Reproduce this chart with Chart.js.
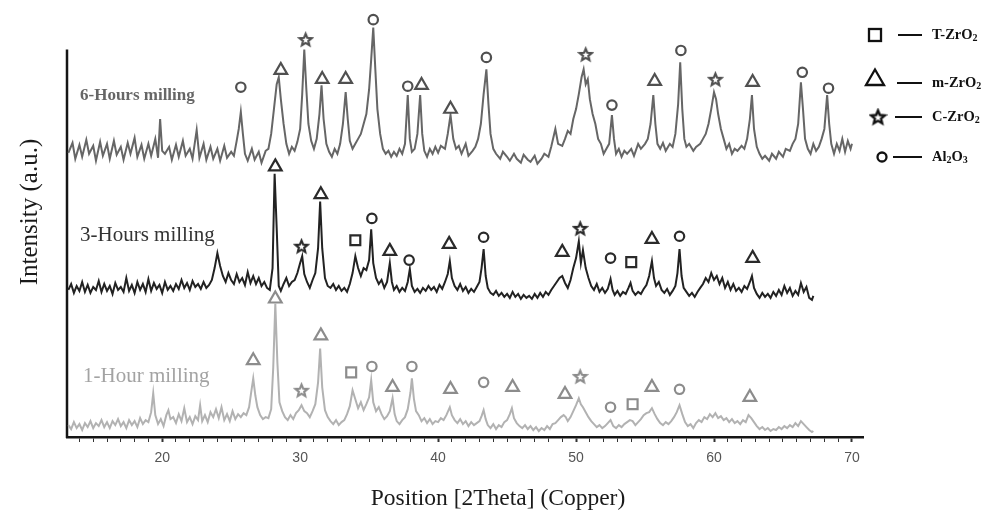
<!DOCTYPE html>
<html><head><meta charset="utf-8">
<script src="https://cdn.jsdelivr.net/npm/chart.js@4.4.1/dist/chart.umd.min.js"></script>
<style>html,body{margin:0;padding:0;background:#fff}canvas{display:block}</style>
</head><body>
<canvas id="c" width="996" height="514"></canvas>
<script>
// ---------- DATA (2θ in degrees, intensity in counts, arbitrary units) ----------
const tickLabels = [20, 30, 40, 50, 60, 70];
const seriesNames = ['6-Hours milling', '3-Hours milling', '1-Hour milling'];
const phaseNames = ['T-ZrO2', 'm-ZrO2', 'C-ZrO2', 'Al2O3'];
const yAxisTop = 3900;   // the drawn intensity axis ends here

const h6 = [[13.2,2860],[13.5,2960],[13.7,2800],[14.0,2940],[14.2,2820],[14.5,2990],[14.7,2850],[15.0,2930],[15.2,2780],[15.5,2970],[15.7,2830],[16.0,2950],[16.2,2800],[16.5,2980],[16.7,2840],[17.0,2920],[17.2,2790],[17.5,2960],[17.7,2850],[18.0,3010],[18.2,2820],[18.5,2940],[18.7,2800],[19.0,2950],[19.2,2830],[19.5,3000],[19.7,2810],[19.85,3200],[20.0,2880],[20.2,2850],[20.5,2920],[20.7,2790],[21.0,2940],[21.2,2820],[21.5,2980],[21.7,2830],[22.0,2900],[22.2,2800],[22.5,3090],[22.7,2810],[23.0,2950],[23.2,2790],[23.5,2920],[23.7,2800],[24.0,2900],[24.2,2780],[24.5,2930],[24.7,2810],[25.0,2870],[25.2,2830],[25.4,2980],[25.55,3100],[25.7,3270],[25.85,3050],[26.0,2850],[26.2,2780],[26.5,2900],[26.7,2790],[27.0,2870],[27.2,2760],[27.5,2880],[27.7,2900],[27.9,3050],[28.1,3300],[28.3,3550],[28.45,3620],[28.6,3400],[28.8,3150],[29.0,2950],[29.2,2850],[29.4,2920],[29.6,2880],[29.8,2970],[30.0,3100],[30.15,3450],[30.3,3900],[30.45,3500],[30.6,3150],[30.8,2980],[31.0,2900],[31.2,3000],[31.4,3250],[31.55,3540],[31.7,3200],[31.9,2950],[32.1,2870],[32.3,2820],[32.5,2900],[32.7,2850],[32.9,2950],[33.1,3150],[33.3,3470],[33.45,3200],[33.6,2980],[33.8,2900],[34.0,2950],[34.2,3000],[34.4,3050],[34.6,3150],[34.8,3250],[35.0,3500],[35.15,3800],[35.3,4120],[35.45,3700],[35.6,3300],[35.8,3050],[36.0,2900],[36.2,2850],[36.4,2880],[36.6,2820],[36.8,2870],[37.0,2830],[37.2,2900],[37.4,2850],[37.6,2950],[37.8,3440],[37.95,3000],[38.1,2870],[38.3,2900],[38.5,3050],[38.7,3440],[38.85,3050],[39.0,2880],[39.2,2820],[39.4,2900],[39.6,2850],[39.8,2920],[40.0,2860],[40.2,2930],[40.5,2900],[40.7,3050],[40.9,3240],[41.1,3000],[41.3,2900],[41.5,2930],[41.7,2850],[42.0,2950],[42.2,2830],[42.5,2880],[42.7,2920],[42.9,3000],[43.1,3150],[43.3,3450],[43.5,3700],[43.65,3350],[43.8,3050],[44.0,2900],[44.2,2850],[44.5,2800],[44.7,2870],[45.0,2820],[45.2,2780],[45.5,2850],[45.7,2800],[46.0,2760],[46.2,2840],[46.5,2790],[46.7,2770],[47.0,2830],[47.2,2750],[47.5,2800],[47.7,2850],[48.0,2820],[48.2,2920],[48.5,3100],[48.7,2950],[49.0,2930],[49.2,3000],[49.4,3080],[49.6,3050],[49.8,3200],[50.0,3300],[50.2,3450],[50.4,3620],[50.55,3700],[50.7,3550],[50.85,3600],[51.0,3400],[51.2,3250],[51.4,3150],[51.6,3000],[51.8,2950],[52.0,2850],[52.2,2900],[52.4,2950],[52.6,3240],[52.75,3000],[52.9,2850],[53.1,2900],[53.3,2820],[53.5,2880],[53.7,2850],[54.0,2900],[54.2,2830],[54.5,2950],[54.7,2900],[55.0,2950],[55.2,3000],[55.4,3150],[55.6,3440],[55.75,3150],[55.9,2950],[56.1,2900],[56.3,2960],[56.5,2880],[56.8,2950],[57.0,2920],[57.2,3050],[57.4,3350],[57.55,3770],[57.7,3300],[57.85,3000],[58.0,2920],[58.2,2950],[58.5,2880],[58.7,2920],[59.0,2950],[59.2,3000],[59.4,3050],[59.6,3150],[59.8,3300],[60.0,3470],[60.15,3400],[60.3,3250],[60.5,3100],[60.7,3000],[60.9,2900],[61.1,2950],[61.3,2850],[61.5,2900],[61.7,2880],[62.0,2930],[62.2,2900],[62.4,3000],[62.6,3200],[62.75,3440],[62.9,3100],[63.1,2920],[63.3,2850],[63.5,2800],[63.7,2830],[64.0,2780],[64.2,2850],[64.5,2800],[64.7,2870],[65.0,2820],[65.2,2900],[65.5,2880],[65.7,2950],[65.9,3000],[66.1,3150],[66.3,3570],[66.45,3300],[66.6,3000],[66.8,2900],[67.0,2850],[67.2,2950],[67.4,2880],[67.6,2920],[67.8,3000],[68.0,3100],[68.2,3440],[68.35,3150],[68.5,2950],[68.7,2850],[68.9,2950],[69.1,2880],[69.3,3000],[69.5,2870],[69.7,2980],[69.9,2900],[70.0,2950]];

const h3 = [[13.2,1480],[13.4,1540],[13.6,1450],[13.8,1520],[14.0,1470],[14.2,1560],[14.4,1460],[14.6,1530],[14.8,1450],[15.0,1510],[15.2,1480],[15.4,1570],[15.6,1460],[15.8,1540],[16.0,1470],[16.2,1520],[16.4,1440],[16.6,1550],[16.8,1480],[17.0,1510],[17.2,1460],[17.4,1600],[17.6,1470],[17.8,1530],[18.0,1450],[18.2,1560],[18.4,1480],[18.6,1540],[18.8,1460],[19.0,1590],[19.2,1470],[19.4,1550],[19.6,1490],[19.8,1530],[20.0,1450],[20.2,1560],[20.4,1480],[20.6,1520],[20.8,1470],[21.0,1540],[21.2,1490],[21.4,1580],[21.6,1500],[21.8,1550],[22.0,1480],[22.2,1570],[22.4,1510],[22.6,1540],[22.8,1490],[23.0,1560],[23.2,1500],[23.4,1530],[23.6,1580],[23.8,1700],[24.0,1850],[24.2,1720],[24.4,1620],[24.6,1560],[24.8,1650],[25.0,1580],[25.2,1540],[25.4,1640],[25.6,1560],[25.8,1600],[26.0,1530],[26.2,1660],[26.4,1550],[26.6,1620],[26.8,1540],[27.0,1600],[27.2,1520],[27.4,1560],[27.6,1500],[27.8,1480],[28.0,1700],[28.15,2650],[28.3,2100],[28.45,1520],[28.6,1470],[28.8,1540],[29.0,1600],[29.2,1520],[29.4,1560],[29.6,1580],[29.8,1650],[30.0,1750],[30.15,1820],[30.3,1640],[30.5,1560],[30.7,1500],[30.9,1580],[31.1,1650],[31.3,1900],[31.45,2370],[31.6,1900],[31.8,1600],[32.0,1520],[32.2,1500],[32.4,1540],[32.6,1480],[32.8,1520],[33.0,1470],[33.2,1500],[33.4,1460],[33.6,1540],[33.8,1650],[34.0,1820],[34.2,1700],[34.4,1620],[34.6,1700],[34.8,1680],[35.0,1780],[35.15,2090],[35.3,1750],[35.5,1600],[35.7,1540],[35.9,1580],[36.1,1500],[36.3,1560],[36.5,1750],[36.65,1560],[36.8,1480],[37.0,1520],[37.2,1460],[37.4,1500],[37.6,1470],[37.8,1560],[37.95,1690],[38.1,1520],[38.3,1460],[38.5,1490],[38.7,1450],[38.9,1500],[39.1,1470],[39.3,1520],[39.5,1480],[39.7,1510],[39.9,1460],[40.1,1530],[40.3,1490],[40.5,1560],[40.7,1640],[40.85,1770],[41.0,1600],[41.2,1520],[41.4,1480],[41.6,1540],[41.8,1470],[42.0,1510],[42.2,1450],[42.4,1490],[42.6,1460],[42.8,1510],[43.0,1560],[43.15,1700],[43.3,1890],[43.45,1620],[43.6,1500],[43.8,1450],[44.0,1430],[44.2,1470],[44.4,1420],[44.6,1450],[44.8,1410],[45.0,1440],[45.2,1400],[45.4,1460],[45.6,1410],[45.8,1440],[46.0,1390],[46.2,1430],[46.4,1400],[46.6,1420],[46.8,1390],[47.0,1440],[47.2,1400],[47.4,1450],[47.6,1410],[47.8,1460],[48.0,1430],[48.2,1480],[48.4,1520],[48.6,1560],[48.8,1600],[49.0,1620],[49.2,1550],[49.4,1500],[49.6,1580],[49.8,1700],[50.0,1800],[50.2,1970],[50.35,1750],[50.5,1880],[50.7,1700],[50.9,1600],[51.1,1520],[51.3,1480],[51.5,1540],[51.7,1460],[51.9,1500],[52.1,1450],[52.3,1490],[52.5,1590],[52.65,1480],[52.8,1430],[53.0,1470],[53.2,1420],[53.4,1460],[53.6,1440],[53.8,1500],[53.95,1550],[54.1,1470],[54.3,1430],[54.5,1460],[54.7,1440],[54.9,1490],[55.1,1530],[55.3,1620],[55.5,1770],[55.65,1600],[55.8,1520],[56.0,1560],[56.2,1480],[56.4,1450],[56.6,1490],[56.8,1430],[57.0,1470],[57.2,1520],[57.35,1650],[57.5,1890],[57.65,1620],[57.8,1500],[58.0,1460],[58.2,1420],[58.4,1450],[58.6,1410],[58.8,1460],[59.0,1500],[59.2,1540],[59.4,1600],[59.6,1560],[59.8,1650],[60.0,1580],[60.2,1620],[60.4,1540],[60.6,1600],[60.8,1500],[61.0,1560],[61.2,1480],[61.4,1540],[61.6,1470],[61.8,1500],[62.0,1460],[62.2,1520],[62.4,1490],[62.6,1560],[62.75,1620],[62.9,1500],[63.1,1440],[63.3,1400],[63.5,1450],[63.7,1410],[63.9,1440],[64.1,1400],[64.3,1460],[64.5,1420],[64.7,1480],[64.9,1430],[65.1,1520],[65.3,1450],[65.5,1500],[65.7,1420],[65.9,1470],[66.1,1430],[66.3,1550],[66.5,1460],[66.7,1510],[66.9,1400],[67.1,1380],[67.2,1420]];

const h1 = [[13.2,120],[13.4,80],[13.6,150],[13.8,90],[14.0,130],[14.2,70],[14.4,140],[14.6,100],[14.8,160],[15.0,90],[15.2,140],[15.4,110],[15.6,170],[15.8,100],[16.0,150],[16.2,90],[16.4,160],[16.6,120],[16.8,180],[17.0,110],[17.2,150],[17.4,90],[17.6,170],[17.8,120],[18.0,160],[18.2,100],[18.4,190],[18.6,130],[18.8,170],[19.0,150],[19.2,250],[19.35,440],[19.5,220],[19.7,130],[19.9,180],[20.1,110],[20.3,220],[20.45,270],[20.6,180],[20.8,200],[21.0,140],[21.2,230],[21.4,160],[21.6,290],[21.8,150],[22.0,200],[22.2,130],[22.4,210],[22.6,170],[22.75,320],[22.9,160],[23.1,220],[23.3,150],[23.5,250],[23.7,200],[23.9,280],[24.1,190],[24.3,300],[24.5,170],[24.7,230],[24.9,160],[25.1,260],[25.3,180],[25.5,230],[25.7,200],[25.9,240],[26.1,220],[26.3,300],[26.45,450],[26.6,590],[26.75,420],[26.9,300],[27.1,220],[27.3,180],[27.5,200],[27.7,190],[27.9,280],[28.05,700],[28.2,1340],[28.35,750],[28.5,350],[28.7,260],[28.9,200],[29.1,170],[29.3,220],[29.5,180],[29.7,240],[29.9,270],[30.1,320],[30.3,260],[30.5,240],[30.7,200],[30.9,260],[31.1,330],[31.3,550],[31.45,890],[31.6,500],[31.8,270],[32.0,200],[32.2,160],[32.4,130],[32.6,170],[32.8,120],[33.0,150],[33.2,170],[33.4,230],[33.6,310],[33.8,470],[34.0,380],[34.2,290],[34.4,350],[34.6,270],[34.8,330],[35.0,400],[35.15,570],[35.3,350],[35.5,260],[35.7,300],[35.9,230],[36.1,180],[36.3,210],[36.5,260],[36.7,390],[36.85,230],[37.0,160],[37.2,130],[37.4,170],[37.6,200],[37.8,280],[38.0,450],[38.1,590],[38.25,380],[38.4,260],[38.6,220],[38.8,160],[39.0,190],[39.2,140],[39.4,180],[39.6,130],[39.8,160],[40.0,150],[40.2,190],[40.4,170],[40.6,220],[40.85,300],[41.0,220],[41.2,170],[41.4,140],[41.6,180],[41.8,130],[42.0,160],[42.2,110],[42.4,150],[42.6,120],[42.8,140],[43.0,160],[43.15,210],[43.3,270],[43.45,180],[43.6,120],[43.8,90],[44.0,130],[44.2,80],[44.4,120],[44.6,100],[44.8,150],[45.0,170],[45.2,230],[45.35,290],[45.5,190],[45.7,140],[45.9,110],[46.1,90],[46.3,120],[46.5,80],[46.7,110],[46.9,70],[47.1,100],[47.3,60],[47.5,90],[47.7,70],[47.9,110],[48.1,80],[48.3,130],[48.5,140],[48.7,170],[48.9,200],[49.1,220],[49.25,200],[49.4,160],[49.6,200],[49.8,260],[50.0,320],[50.2,390],[50.35,330],[50.5,300],[50.7,250],[50.9,200],[51.1,160],[51.3,130],[51.5,100],[51.7,120],[51.9,90],[52.1,110],[52.3,140],[52.5,170],[52.7,110],[52.9,90],[53.1,120],[53.3,100],[53.5,130],[53.7,150],[53.9,170],[54.1,160],[54.3,120],[54.5,150],[54.7,180],[54.9,220],[55.1,240],[55.3,250],[55.5,290],[55.7,230],[55.9,180],[56.1,140],[56.3,120],[56.5,150],[56.7,130],[56.9,160],[57.1,200],[57.3,250],[57.5,320],[57.7,230],[57.9,150],[58.1,110],[58.3,130],[58.5,90],[58.7,140],[58.9,170],[59.1,150],[59.3,200],[59.5,180],[59.7,230],[59.9,200],[60.1,240],[60.3,190],[60.5,210],[60.7,170],[60.9,190],[61.1,150],[61.3,180],[61.5,140],[61.7,160],[61.9,130],[62.1,170],[62.3,150],[62.5,220],[62.7,190],[62.9,150],[63.1,110],[63.3,80],[63.5,100],[63.7,70],[63.9,90],[64.1,60],[64.3,80],[64.5,70],[64.7,100],[64.9,80],[65.1,110],[65.3,90],[65.5,120],[65.7,100],[65.9,140],[66.1,110],[66.3,160],[66.5,130],[66.7,100],[66.9,70],[67.1,50],[67.2,60]];

// phase markers: [2θ, intensity, pattern index (0=6h, 1=3h, 2=1h)]
const markT = [[34.0,1980,1],[54.0,1760,1],[33.7,650,2],[54.1,330,2]];
const markM = [[28.6,3690,0],[31.6,3600,0],[33.3,3600,0],[38.8,3540,0],[40.9,3300,0],[55.7,3580,0],[62.8,3570,0],
               [28.2,2720,1],[31.5,2440,1],[36.5,1870,1],[40.8,1940,1],[49.0,1860,1],[55.5,1990,1],[62.8,1800,1],
               [26.6,770,2],[28.2,1390,2],[31.5,1020,2],[36.7,500,2],[40.9,480,2],[45.4,500,2],[49.2,430,2],[55.5,500,2],[62.6,400,2]];
const markC = [[30.4,4000,0],[50.7,3850,0],[60.1,3600,0],[30.1,1920,1],[50.3,2100,1],[30.1,470,2],[50.3,610,2]];
const markA = [[25.7,3520,0],[35.3,4200,0],[37.8,3530,0],[43.5,3820,0],[52.6,3340,0],[57.6,3890,0],[66.4,3670,0],[68.3,3510,0],
               [35.2,2200,1],[37.9,1780,1],[43.3,2010,1],[52.5,1800,1],[57.5,2020,1],
               [35.2,710,2],[38.1,710,2],[43.3,550,2],[52.5,300,2],[57.5,480,2]];

// ---------- STYLE ----------
const traceColors = ['#666666', '#222222', '#b2b2b2'];
const markColors = ['#505050', '#2a2a2a', '#8c8c8c'];
const labelColors = ['#666666', '#333333', '#a3a3a3'];

function makeStar(color, size, lw) {
  const c = document.createElement('canvas');
  c.width = size; c.height = size;
  const g = c.getContext('2d');
  const cx = size / 2, cy = size / 2 + 0.6, R = size / 2 - lw, r = R * 0.45;
  g.beginPath();
  for (let i = 0; i < 10; i++) {
    const a = -Math.PI / 2 + i * Math.PI / 5;
    const rr = i % 2 ? r : R;
    const px = cx + Math.cos(a) * rr, py = cy + Math.sin(a) * rr;
    i ? g.lineTo(px, py) : g.moveTo(px, py);
  }
  g.closePath();
  g.fillStyle = '#fff'; g.fill();
  g.strokeStyle = color; g.lineWidth = lw; g.lineJoin = 'miter'; g.stroke();
  return c;
}
const starImgs = markColors.map(c => makeStar(c, 17, 2.2));
const legendStar = makeStar('#111', 19, 2.4);

const toPts = arr => arr.map(([x, y]) => ({ x, y }));
const toMarks = arr => arr.map(([x, y, p]) => ({ x, y, p }));

function markerSet(label, arr, style, radius) {
  return {
    label, data: toMarks(arr), showLine: false, order: 0, clip: false,
    pointStyle: style === 'star' ? (ctx => starImgs[ctx.raw ? ctx.raw.p : 0]) : style,
    pointRadius: radius,
    pointBorderWidth: 2.2,
    pointBorderColor: ctx => markColors[ctx.raw ? ctx.raw.p : 0],
    pointBackgroundColor: '#ffffff'
  };
}
function traceSet(label, arr, i) {
  return {
    label, data: toPts(arr), showLine: true, order: 1, clip: false,
    borderColor: traceColors[i], borderWidth: 2, pointRadius: 0, tension: 0
  };
}

const axisLinePlugin = {
  id: 'yAxisLine',
  beforeDatasetsDraw(chart) {
    const ctx = chart.ctx, ys = chart.scales.y, a = chart.chartArea;
    ctx.save();
    ctx.strokeStyle = '#151515';
    ctx.lineWidth = 2.5;
    ctx.beginPath();
    ctx.moveTo(a.left, ys.getPixelForValue(yAxisTop));
    ctx.lineTo(a.left, a.bottom + 1);
    ctx.stroke();
    ctx.restore();
  }
};

const textPlugin = {
  id: 'texts',
  afterDraw(chart) {
    const ctx = chart.ctx;
    ctx.save();
    ctx.textBaseline = 'middle';
    // series labels
    const lab = [[seriesNames[0], 80, 96, 'bold 17px "Liberation Serif"'],
                 [seriesNames[1], 80, 235, '21px "Liberation Serif"'],
                 [seriesNames[2], 83, 376, '21px "Liberation Serif"']];
    lab.forEach(([t, x, y, f], i) => { ctx.font = f; ctx.fillStyle = labelColors[i]; ctx.textAlign = 'left'; ctx.fillText(t, x, y); });
    // axis titles
    ctx.fillStyle = '#1a1a1a';
    ctx.font = '23.5px "Liberation Serif"';
    ctx.textAlign = 'center';
    ctx.fillText('Position [2Theta] (Copper)', 498, 499);
    ctx.save();
    ctx.translate(30, 212);
    ctx.rotate(-Math.PI / 2);
    ctx.font = '25px "Liberation Serif"';
    ctx.fillText('Intensity (a.u.)', 0, 0);
    ctx.restore();
    // legend
    const items = [
      { ly: 35, name: ['T-ZrO', '2'] },
      { ly: 83, name: ['m-ZrO', '2'] },
      { ly: 117, name: ['C-ZrO', '2'] },
      { ly: 157, name: ['Al', '2', 'O', '3'] }
    ];
    ctx.strokeStyle = '#111'; ctx.fillStyle = '#111'; ctx.lineWidth = 2.3;
    ctx.strokeRect(869, 29, 12, 12);
    ctx.beginPath(); ctx.moveTo(875, 69.5); ctx.lineTo(884, 85); ctx.lineTo(866, 85); ctx.closePath(); ctx.stroke();
    ctx.drawImage(legendStar, 878 - 9.5, 117 - 9.5);
    ctx.beginPath(); ctx.arc(882, 157, 4.5, 0, Math.PI * 2); ctx.stroke();
    ctx.lineWidth = 2;
    const lineStart = [898, 897, 895, 893];
    items.forEach((it, k) => {
      ctx.beginPath(); ctx.moveTo(lineStart[k], it.ly); ctx.lineTo(922, it.ly); ctx.stroke();
      let x = 932;
      ctx.textAlign = 'left';
      it.name.forEach((part, j) => {
        const sub = j % 2 === 1;
        ctx.font = sub ? 'bold 10px "Liberation Serif"' : 'bold 14.5px "Liberation Serif"';
        ctx.fillText(part, x, it.ly + (sub ? 3 : 0));
        x += ctx.measureText(part).width;
      });
    });
    ctx.restore();
  }
};

new Chart(document.getElementById('c'), {
  type: 'scatter',
  data: {
    datasets: [
      markerSet(phaseNames[0], markT, 'rect', 7),
      markerSet(phaseNames[1], markM, 'triangle', 7.3),
      markerSet(phaseNames[2], markC, 'star', 8.5),
      markerSet(phaseNames[3], markA, 'circle', 4.7),
      traceSet(seriesNames[0], h6, 0),
      traceSet(seriesNames[1], h3, 1),
      traceSet(seriesNames[2], h1, 2)
    ]
  },
  options: {
    responsive: false,
    animation: false,
    events: [],
    layout: { padding: { left: 67, right: 133, top: 8, bottom: 0 } },
    plugins: { legend: { display: false }, tooltip: { enabled: false } },
    scales: {
      x: {
        type: 'linear', min: 13.1, max: 70.8,
        afterBuildTicks: s => {
          const t = [];
          for (let v = 14; v <= 70; v++) t.push({ value: v });
          s.ticks = t;
        },
        afterFit: s => { s.height = 77; },
        ticks: {
          autoSkip: false, maxRotation: 0, padding: 8,
          font: { family: '"Liberation Sans"', size: 14 }, color: '#555',
          callback: v => tickLabels.includes(v) ? String(v) : ''
        },
        grid: {
          display: true, drawOnChartArea: false, drawTicks: true, tickLength: 5,
          color: '#333', tickWidth: c => (c.tick && tickLabels.includes(c.tick.value)) ? 2 : 1
        },
        border: { display: true, width: 2.5, color: '#151515' }
      },
      y: {
        type: 'linear', min: 0, max: 4290,
        afterFit: s => { s.width = 0; },
        ticks: { display: false },
        grid: { display: false },
        border: { display: false }
      }
    }
  },
  plugins: [axisLinePlugin, textPlugin]
});
</script>
</body></html>
